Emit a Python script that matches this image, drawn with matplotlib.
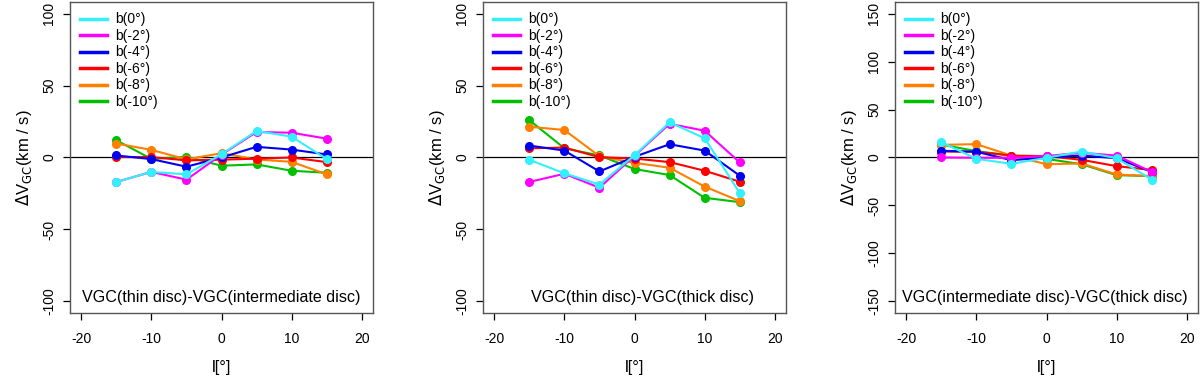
import numpy as np
import matplotlib
matplotlib.use("Agg")
import matplotlib.pyplot as plt

plt.rcParams['font.family'] = ['Liberation Sans', 'DejaVu Sans']
plt.rcParams['axes.unicode_minus'] = False

l_deg = [-15, -10, -5, 0, 5, 10, 15]
labels = ['b(0°)', 'b(-2°)', 'b(-4°)', 'b(-6°)', 'b(-8°)', 'b(-10°)']
colors = ['#33F0FF', '#FF00FF', '#0000EE', '#FF0000', '#FF7F00', '#00C000']

# thin - intermediate
p1_b0 = [-17, -10, -11.7, 2.3, 18.4, 14.5, -1.1]
p1_b2 = [-17, -10, -15.4, 2.0, 17.7, 17.2, 13.1]
p1_b4 = [1.4, -1.1, -6.4, 0.0, 7.4, 5.5, 2.1]
p1_b6 = [0.3, 0.3, -2.0, -1.5, -0.8, 0.0, -3.2]
p1_b8 = [9.7, 5.3, -1.3, 3.0, -1.4, -3.0, -11.7]
p1_b10 = [12.0, -1.0, 0.5, -5.7, -4.8, -9.2, -10.6]

# thin - thick
p2_b0 = [-1.6, -11.0, -18.8, 1.6, 24.4, 13.4, -24.6]
p2_b2 = [-17.0, -11.3, -21.0, 1.2, 23.4, 18.6, -3.4]
p2_b4 = [8.3, 4.8, -9.7, 0.5, 9.2, 4.8, -12.6]
p2_b6 = [6.4, 6.9, 0.2, -0.7, -3.2, -9.2, -16.8]
p2_b8 = [21.4, 19.1, 0.9, -3.7, -7.1, -20.2, -30.3]
p2_b10 = [26.0, 6.4, 1.4, -8.0, -12.2, -28.0, -31.0]

# intermediate - thick
p3_b0 = [16.0, -1.4, -6.6, -0.3, 6.2, -0.7, -23.0]
p3_b2 = [0.0, -0.3, -0.3, 1.5, 4.9, 2.0, -15.0]
p3_b4 = [7.0, 6.0, -2.8, 0.0, 2.0, -0.7, -15.0]
p3_b6 = [6.2, 6.0, 2.0, 1.4, -2.4, -9.0, -13.0]
p3_b8 = [13.2, 13.9, 2.0, -7.0, -6.2, -17.7, -19.4]
p3_b10 = [13.5, 6.6, 2.0, -1.4, -7.0, -18.4, -19.4]

panels = [
    ([p1_b0, p1_b2, p1_b4, p1_b6, p1_b8, p1_b10], 100,
     'VGC(thin disc)-VGC(intermediate disc)', 0.0),
    ([p2_b0, p2_b2, p2_b4, p2_b6, p2_b8, p2_b10], 100,
     'VGC(thin disc)-VGC(thick disc)', 1.2),
    ([p3_b0, p3_b2, p3_b4, p3_b6, p3_b8, p3_b10], 150,
     'VGC(intermediate disc)-VGC(thick disc)', -0.3),
]

fig = plt.figure(figsize=(12, 3.81), dpi=100)
lefts = [70 / 1200, 483 / 1200, 895 / 1200]

for (series, lim, title, tx), left in zip(panels, lefts):
    ax = fig.add_axes([left, 68 / 381, 303 / 1200, 311 / 381])
    ax.axhline(0, color='black', lw=0.9, zorder=1)
    for s, c, lab in reversed(list(zip(series, colors, labels))):
        ax.plot(l_deg, s, '-o', color=c, lw=1.5, ms=5.5, label=lab, zorder=2)
    ax.set_xlim(-21.6, 21.6)
    ax.set_ylim(-lim * 1.08, lim * 1.08)
    ax.set_xticks([-20, -10, 0, 10, 20])
    ax.set_yticks(np.arange(-lim, lim + 1, 50))
    ax.tick_params(direction='out', length=5, width=0.9, labelsize=10)
    ax.tick_params(axis='x', pad=9)
    ax.tick_params(axis='y', pad=5)
    for t in ax.get_yticklabels():
        t.set_rotation(90)
        t.set_va('center')
    for sp in ax.spines.values():
        sp.set_color('#555555')
        sp.set_linewidth(1.0)
    ax.set_xlabel('l[°]', fontsize=12, labelpad=10)
    ax.set_ylabel(r'$\Delta$V$_{\rm GC}$(km / s)', fontsize=12, labelpad=6)
    ax.text(tx, -lim * 1.08 + 0.05 * 2 * lim * 1.08, title, ha='center', va='center', fontsize=11.6)
    h, l = ax.get_legend_handles_labels()
    leg = ax.legend(h[::-1], l[::-1], loc='upper left', fontsize=10, frameon=False,
                    handlelength=1.9, handletextpad=0.6, labelspacing=0.18,
                    borderaxespad=0.55, borderpad=0.2)
    for line in leg.get_lines():
        line.set_marker('')
        line.set_linewidth(2.5)

fig.savefig('out.png', dpi=100)
